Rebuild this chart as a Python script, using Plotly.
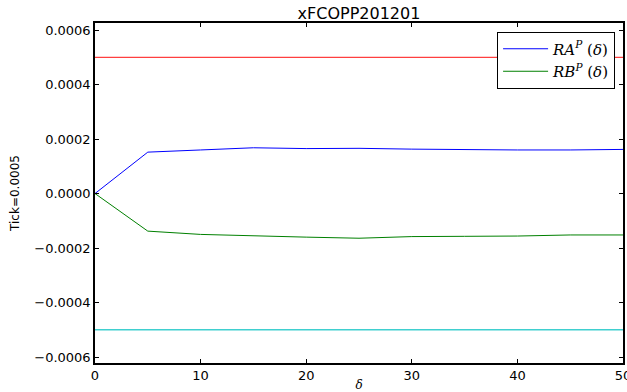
import plotly.graph_objects as go

delta = [0, 5, 10, 15, 20, 25, 30, 35, 40, 45, 50]
ra_p = [0.0, 0.000152, 0.000160, 0.000168, 0.000165, 0.000166, 0.000163, 0.000161, 0.000160, 0.000160, 0.000162]
rb_p = [0.0, -0.000138, -0.000150, -0.000156, -0.000160, -0.000164, -0.000158, -0.000157, -0.000156, -0.000152, -0.000152]
upper_limit = [0.0005, 0.0005]
lower_limit = [-0.0005, -0.0005]
limit_x = [0, 50]
y_ticks = [-0.0006, -0.0004, -0.0002, 0.0, 0.0002, 0.0004, 0.0006]
x_ticks = [0, 10, 20, 30, 40, 50]

fig = go.Figure()
fig.add_trace(go.Scatter(x=limit_x, y=upper_limit, mode="lines",
                         line=dict(color="#ff0000", width=1.2), showlegend=False, opacity=0.75))
fig.add_trace(go.Scatter(x=limit_x, y=lower_limit, mode="lines",
                         line=dict(color="#00bfbf", width=1.5), showlegend=False, opacity=0.75))
fig.add_trace(go.Scatter(x=delta, y=ra_p, mode="lines", name="<i>RA</i><sup><i>P</i></sup> (<i>δ</i>)",
                         line=dict(color="#0000ff", width=1)))
fig.add_trace(go.Scatter(x=delta, y=rb_p, mode="lines", name="<i>RB</i><sup><i>P</i></sup> (<i>δ</i>)",
                         line=dict(color="#008000", width=1)))

axis_common = dict(showgrid=False, zeroline=False, showline=True, linecolor="black", linewidth=1.5,
                   mirror="ticks", ticks="inside", ticklen=4, tickcolor="black", automargin=False,
                   ticklabeloverflow="allow",
                   tickfont=dict(family="DejaVu Sans", size=13, color="black"))

fig.update_layout(
    width=627, height=392,
    margin=dict(l=95, r=4, t=23, b=29),
    paper_bgcolor="white", plot_bgcolor="white",
    title=dict(text="xFCOPP201201", xref="paper", x=0.5, xanchor="center",
               yref="container", y=0.966, yanchor="middle",
               font=dict(family="DejaVu Sans", size=16, color="black")),
    xaxis=dict(range=[0, 50], tickvals=x_ticks, **axis_common,
               title=dict(text="<i>δ</i>", font=dict(family="DejaVu Serif", size=12, color="black"), standoff=7)),
    yaxis=dict(range=[-0.000622, 0.000626], tickvals=y_ticks, tickformat=".4f", **axis_common,
               title=dict(text="Tick=0.0005", font=dict(family="DejaVu Sans", size=12, color="black"), standoff=12)),
    legend=dict(x=0.985, y=0.975, xanchor="right", yanchor="top", bordercolor="black", borderwidth=1,
                bgcolor="white", font=dict(family="DejaVu Serif", size=15, color="black"),
                itemwidth=45, tracegroupgap=4),
)

# remove the default page margin so the figure fills the window from its top-left corner
fig.write_html("out.html", config={"displayModeBar": False},
               post_script="document.body.style.margin='0px';")
